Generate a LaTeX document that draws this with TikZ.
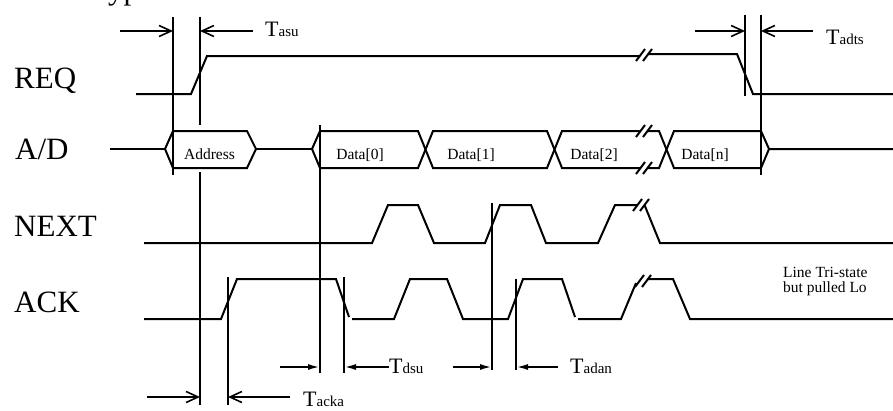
\documentclass[tikz,border=0pt]{standalone}
\usepackage{fontspec}
\setmainfont{Liberation Serif}
\usetikzlibrary{arrows.meta}
\tikzset{
  sig/.style={line width=2pt, line join=miter, line cap=butt},
  mk/.style={line width=2pt},
  dimA/.style={line width=2pt, -{Straight Barb[length=12pt,width=11pt,line width=1.6pt]}},
  dimB/.style={line width=2pt, -{Latex[length=12pt,width=6pt]}},
  big/.style={font=\fontsize{31}{31}\selectfont, anchor=base west, inner sep=0pt},
  small/.style={font=\fontsize{15.5}{16}\selectfont, anchor=base, inner sep=0pt},
  tlab/.style={anchor=base west, inner sep=0pt},
  note/.style={font=\fontsize{15.5}{15.5}\selectfont, anchor=base west, inner sep=0pt, align=left},
}
\newcommand{\tsub}[2]{{\fontsize{22}{22}\selectfont #1}{\fontsize{15}{15}\selectfont #2}}
\newcommand{\brkmark}[2]{%
  \draw[sig] ({#1-8},{#2+6}) -- ({#1+1},{#2-6});
  \draw[sig] ({#1-1},{#2+6}) -- ({#1+8},{#2-6});}
\begin{document}
\begin{tikzpicture}[x=1pt,y=-1pt]
\clip (0,0) rectangle (893,410);
\useasboundingbox (0,0) rectangle (893,410);
\fill[white] (0,0) rectangle (893,410);

% title fragment
\node[big] (title) at (91,-1) {Typ};

% signal names
\node[big] (req) at (14,88) {REQ};
\node[big] (ad) at (15,159) {A/D};
\node[big] (next) at (14,236) {NEXT};
\node[big] (ack) at (14,312) {ACK};

% REQ
\draw[sig] (136,94) -- (191,94) -- (207,56) -- (640,56);
\brkmark{644}{55}
\draw[sig] (648,54) -- (737,54) -- (753,94) -- (893,94);

% A/D bus
\draw[sig] (110,149) -- (165,149);
\draw[sig] (165,149) -- (173,131) -- (247,131) -- (256,149) -- (247,168) -- (173,168) -- cycle;
\draw[sig] (256,149) -- (312,149);
\draw[sig] (312,149) -- (320,131) -- (418,131) -- (433,168) -- (547,168) -- (562,131) -- (640.5,131);
\draw[sig] (312,149) -- (320,168) -- (418,168) -- (433,131) -- (547,131) -- (562,168) -- (640.5,168);
\brkmark{644}{131}
\brkmark{644}{168}
\draw[sig] (647.5,131) -- (659,131) -- (674,168) -- (761,168) -- (769,149) -- (893,149);
\draw[sig] (647.5,168) -- (659,168) -- (674,131) -- (761,131) -- (769,149);
\node[small] (a0) at (209.5,159.5) {Address};
\node[small] (d0) at (360,159.5) {Data[0]};
\node[small] (d1) at (471,159.5) {Data[1]};
\node[small] (d2) at (594,159.5) {Data[2]};
\node[small] (dn) at (705,159.5) {Data[n]};

% NEXT
\draw[sig] (144,243) -- (372,243) -- (388,205) -- (418,205) -- (434,243) -- (485,243) -- (500,205) -- (531,205) -- (546,243) -- (598,243) -- (615,205) -- (637.5,205);
\brkmark{641}{205}
\draw[sig] (644.5,205) -- (660,243) -- (893,243);

% ACK
\draw[sig] (144,319) -- (221,319) -- (237,279) -- (336,279) -- (349,317);
\draw[sig] (352,319) -- (394,319) -- (410,279) -- (447,279) -- (463,319) -- (508,319) -- (523,279) -- (562,279) -- (575,317);
\draw[sig] (578,319) -- (621,319) -- (636,283);
\brkmark{643}{281}
\draw[sig] (647,279) -- (673,279) -- (690,319) -- (893,319);
\node[note] (tri) at (783,292.5) {Line Tri-state\\but pulled Lo};

% marker lines
\draw[mk] (173,17) -- (173,175);
\draw[mk] (200,17) -- (200,125);
\draw[mk] (200,172) -- (200,405);
\draw[mk] (228,277) -- (228,405);
\draw[mk] (320,125) -- (320,373);
\draw[mk] (344,277) -- (344,373);
\draw[mk] (492,203) -- (492,370);
\draw[mk] (516,279) -- (516,370);
\draw[mk] (745,15) -- (745,96);
\draw[mk] (761,15) -- (761,175);

% Tasu
\coordinate (asuL) at (120,31); \coordinate (asuA) at (173,31);
\coordinate (asuR) at (253,31); \coordinate (asuB) at (200,31);
\draw[dimA] (asuL) -- (asuA);
\draw[dimA] (asuR) -- (asuB);
\node[tlab] (tasu) at (265,36) {\tsub{T}{asu}};

% Tadts
\coordinate (adtsL) at (695,31); \coordinate (adtsA) at (745,31);
\coordinate (adtsR) at (813,31); \coordinate (adtsB) at (761,31);
\draw[dimA] (adtsL) -- (adtsA);
\draw[dimA] (adtsR) -- (adtsB);
\node[tlab] (tadts) at (826,44) {\tsub{T}{adts}};

% Tacka
\coordinate (ackaL) at (147,397); \coordinate (ackaA) at (200,397);
\coordinate (ackaR) at (290,397); \coordinate (ackaB) at (228,397);
\draw[dimA] (ackaL) -- (ackaA);
\draw[dimA] (ackaR) -- (ackaB);
\node[tlab] (tacka) at (303,406) {\tsub{T}{acka}};

% Tdsu
\coordinate (dsuL) at (280,367); \coordinate (dsuA) at (320,367);
\coordinate (dsuR) at (389,367); \coordinate (dsuB) at (344,367);
\draw[dimB] (dsuL) -- (dsuA);
\draw[dimB] (dsuR) -- (dsuB);
\node[tlab] (tdsu) at (389,373) {\tsub{T}{dsu}};

% Tadan
\coordinate (adanL) at (453,367); \coordinate (adanA) at (492,367);
\coordinate (adanR) at (558,367); \coordinate (adanB) at (516,367);
\draw[dimB] (adanL) -- (adanA);
\draw[dimB] (adanR) -- (adanB);
\node[tlab] (tadan) at (570,373) {\tsub{T}{adan}};
\end{tikzpicture}
\end{document}
